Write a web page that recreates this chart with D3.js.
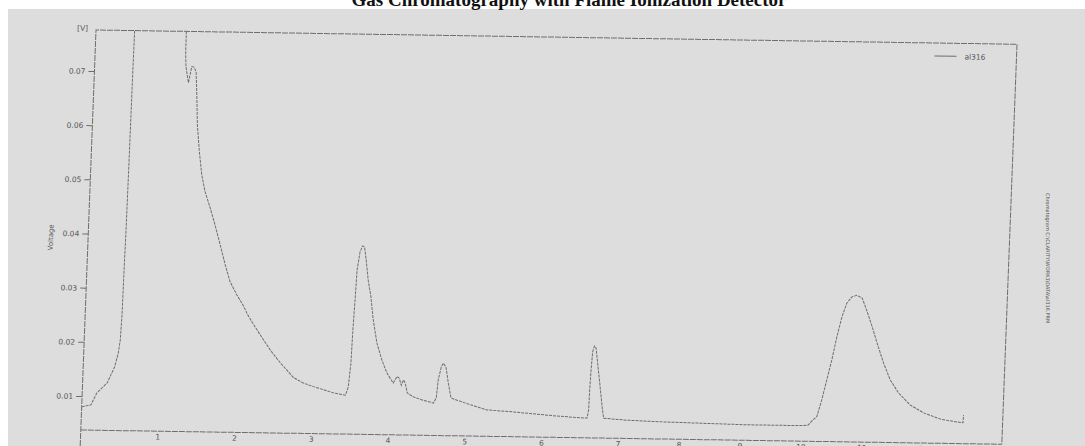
<!DOCTYPE html>
<html>
<head>
<meta charset="utf-8">
<script src="https://cdn.jsdelivr.net/npm/d3@7"></script>
<style>
  body { margin: 0; background: #fff; }
  svg { display: block; }
</style>
</head>
<body>
<svg id="chart" width="1085" height="446"></svg>
<script>
// chromatogram trace (time in min, signal in V)
var minutes = [0.00, 0.12, 0.19, 0.32, 0.41, 0.45, 0.47, 0.48, 0.485, 0.49, 0.495, 0.50, 0.51,
    0.60, 0.80, 1.00, 1.17, 1.18, 1.19, 1.23, 1.266, 1.296, 1.325, 1.343, 1.368, 1.407, 1.45,
    1.50, 1.575, 1.648, 1.724, 1.80, 1.872, 1.966, 2.053, 2.12, 2.175, 2.29, 2.43, 2.565, 2.746,
    2.88, 3.01, 3.274, 3.43, 3.463, 3.486, 3.495, 3.51, 3.52, 3.55, 3.58, 3.606, 3.634, 3.67, 3.713,
    3.755, 3.815, 3.888, 3.96, 4.047, 4.093, 4.123, 4.153, 4.18, 4.203, 4.235, 4.314, 4.447,
    4.58, 4.615, 4.632, 4.665, 4.69, 4.726, 4.764, 4.807, 4.887, 5.063, 5.28, 5.626, 6.07, 6.50,
    6.59, 6.606, 6.61, 6.618, 6.63, 6.65, 6.673, 6.70, 6.737, 6.78, 6.806, 7.14, 7.687, 9.08,
    9.98, 10.11, 10.19, 10.25, 10.32, 10.39, 10.46, 10.53, 10.60, 10.67, 10.75, 10.83, 10.92,
    11.00, 11.10, 11.19, 11.31, 11.43, 11.575, 11.775, 11.998, 12.275, 12.495, 12.65, 12.655];
var volts = [0.0080, 0.0084, 0.0106, 0.0125, 0.0155, 0.0180, 0.0205, 0.0250, 0.0340, 0.0400, 0.0520, 0.0700, 0.0900,
    0.300, 0.500, 0.300, 0.0900, 0.0735, 0.0711, 0.0681, 0.0711, 0.0710, 0.0701, 0.0665, 0.0603, 0.0554, 0.0511,
    0.0481, 0.0451, 0.0419, 0.0383, 0.0346, 0.0315, 0.0291, 0.0272, 0.0254, 0.0242, 0.0218, 0.0190, 0.0167, 0.0140,
    0.0130, 0.0124, 0.0113, 0.0109, 0.0124, 0.0169, 0.0230, 0.0291, 0.0340, 0.0374, 0.0385, 0.0383, 0.0359, 0.0322, 0.0292,
    0.0249, 0.0206, 0.0175, 0.0151, 0.0133, 0.0145, 0.0142, 0.0129, 0.0139, 0.0133, 0.0115, 0.0108, 0.0102,
    0.0097, 0.0107, 0.0140, 0.0164, 0.0171, 0.0164, 0.0135, 0.0107, 0.0103, 0.0095, 0.0086, 0.0083, 0.0078, 0.0074,
    0.0074, 0.0089, 0.0126, 0.0163, 0.0196, 0.0207, 0.0203, 0.0176, 0.0139, 0.0095, 0.0074, 0.0071, 0.0069, 0.0066,
    0.0066, 0.0067, 0.0077, 0.0083, 0.0114, 0.0151, 0.0188, 0.0231, 0.0268, 0.0293, 0.0305, 0.0308, 0.0303,
    0.0281, 0.0251, 0.0221, 0.0184, 0.0153, 0.0129, 0.0107, 0.0093, 0.0082, 0.0078, 0.0076, 0.0090];

var xTicks = [1, 2, 3, 4, 5, 6, 7, 8, 9, 10, 11, 12];
var yTicks = [0.01, 0.02, 0.03, 0.04, 0.05, 0.06, 0.07];
var seriesName = "al316";
var titleText = "Gas Chromatography with Flame Ionization Detector";
var sideText = "Chromatogram C:\\CLARITY\\WORK1\\DATA\\al316.PRM";

var svg = d3.select("#chart");
var W = 921, H = 400;

// scanned page background
svg.append("rect")
    .attr("x", 8).attr("y", 9)
    .attr("width", 1077).attr("height", 437)
    .attr("fill", "#dddddd");

svg.append("text")
    .text(titleText)
    .attr("x", 569)
    .attr("y", 6)
    .attr("text-anchor", "middle")
    .attr("font-family", "Liberation Serif, Times New Roman, serif")
    .attr("font-weight", "bold")
    .attr("font-size", 19)
    .attr("fill", "#111");

// the print sits slightly skewed on the scan
var g = svg.append("g")
    .attr("transform", "matrix(1,0.0155,-0.038,1,96,30)");

var x = d3.scaleLinear()
    .domain([0, 7, 13.3])
    .range([0, 537, W]);
var y = d3.scaleLinear()
    .domain([0.00373, 0.07757])
    .range([H, 0]);

var ink = "#6e6e6e";

g.append("defs").append("clipPath")
    .attr("id", "plotclip")
    .append("rect")
    .attr("width", W).attr("height", H);

// frame
g.append("path")
    .attr("d", "M0," + (H + 16) + "V0H" + W + "V" + H + "M0," + H + "H" + W)
    .attr("fill", "none")
    .attr("stroke", ink)
    .attr("stroke-width", 1)
    .attr("stroke-dasharray", "6,1");

var yAxis = g.append("g")
    .call(d3.axisLeft(y).tickValues(yTicks).tickSize(6).tickFormat(d3.format(".2f")));
yAxis.select(".domain").remove();
yAxis.selectAll("line").attr("stroke", ink);
yAxis.selectAll("text")
    .attr("fill", "#555")
    .attr("font-size", 7.5)
    .attr("font-family", "DejaVu Sans, sans-serif");

var xAxis = g.append("g")
    .attr("transform", "translate(0," + H + ")")
    .call(d3.axisBottom(x).tickValues(xTicks).tickSize(0).tickPadding(3));
xAxis.select(".domain").remove();
xAxis.selectAll("text")
    .attr("fill", "#555")
    .attr("font-size", 7.5)
    .attr("font-family", "DejaVu Sans, sans-serif");

g.append("text")
    .text("[V]")
    .attr("x", -8).attr("y", 1)
    .attr("text-anchor", "end")
    .attr("font-size", 7.5)
    .attr("font-family", "DejaVu Sans, sans-serif")
    .attr("fill", "#555");

g.append("text")
    .text("Voltage")
    .attr("transform", "translate(-35,208) rotate(-90)")
    .attr("text-anchor", "middle")
    .attr("font-size", 7)
    .attr("font-family", "DejaVu Sans, sans-serif")
    .attr("fill", "#555");

// legend
g.append("line")
    .attr("x1", 839).attr("x2", 861)
    .attr("y1", 13).attr("y2", 13)
    .attr("stroke", ink);
g.append("text")
    .text(seriesName)
    .attr("x", 869).attr("y", 16)
    .attr("font-size", 7.5)
    .attr("font-family", "DejaVu Sans, sans-serif")
    .attr("fill", "#555");

var trace = d3.range(minutes.length);
var line = d3.line()
    .x(function(i) { return x(minutes[i]); })
    .y(function(i) { return y(volts[i]); });

g.append("path")
    .datum(trace)
    .attr("clip-path", "url(#plotclip)")
    .attr("d", line)
    .attr("fill", "none")
    .attr("stroke", ink)
    .attr("stroke-width", 1)
    .attr("stroke-dasharray", "3,1");

svg.append("text")
    .text(sideText)
    .attr("transform", "translate(1046,193) rotate(90)")
    .attr("font-size", 5)
    .attr("font-family", "DejaVu Sans, sans-serif")
    .attr("fill", "#555");
</script>
</body>
</html>
